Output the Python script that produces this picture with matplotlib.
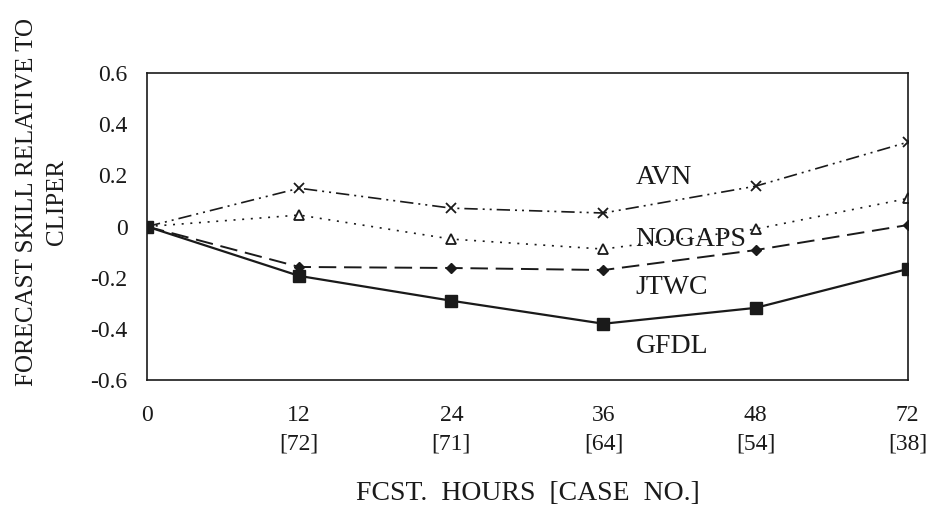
import matplotlib
matplotlib.use("Agg")
import matplotlib.pyplot as plt

hours = ["0", "12", "24", "36", "48", "72"]
cases = ["", "[72]", "[71]", "[64]", "[54]", "[38]"]
avn = [0.0, 0.15, 0.072, 0.053, 0.158, 0.33]
nogaps = [0.0, 0.045, -0.049, -0.088, -0.01, 0.11]
jtwc = [0.0, -0.158, -0.162, -0.17, -0.092, 0.006]
gfdl = [0.0, -0.193, -0.29, -0.38, -0.318, -0.166]
yticks = [-0.6, -0.4, -0.2, 0, 0.2, 0.4, 0.6]
ytick_labels = ["-0.6", "-0.4", "-0.2", "0", "0.2", "0.4", "0.6"]

plt.rcParams['font.family'] = ['Liberation Serif', 'DejaVu Serif']
ink = '#1a1a1a'

fig = plt.figure(figsize=(9.31, 5.08), dpi=100)
ax = fig.add_axes([0.158, 0.252, 0.817, 0.604])
x = list(range(len(hours)))

ax.plot(x, avn, color=ink, lw=1.2, dashes=(8, 3, 1.2, 3, 1.2, 3), marker='x', ms=7, mew=1.3)
ax.plot(x, nogaps, color=ink, lw=1.2, dashes=(1.2, 4), marker='^', ms=7, mfc='white', mec=ink, mew=1.3)
ax.plot(x, jtwc, color=ink, lw=1.4, dashes=(9, 4), marker='D', ms=5.5, mfc=ink, mec=ink)
ax.plot(x, gfdl, color=ink, lw=1.6, ls='-', marker='s', ms=8, mfc=ink, mec=ink)

ax.set_xlim(0, 5)
ax.set_ylim(-0.6, 0.6)
ax.set_yticks(yticks)
ax.set_yticklabels(ytick_labels, fontsize=17)
ax.set_xticks(x)
ax.set_xticklabels([h + ("\n" + c if c else "") for h, c in zip(hours, cases)],
                   fontsize=17, linespacing=1.45)
ax.tick_params(length=0, colors=ink)
ax.tick_params(axis='x', pad=18)
ax.tick_params(axis='y', pad=14)
for s in ax.spines.values():
    s.set_color(ink)
    s.set_linewidth(1.2)

lx = 3.21
ax.text(lx, 0.193, "AVN", fontsize=20, color=ink, ha='left', va='center')
ax.text(lx, -0.049, "NOGAPS", fontsize=20, color=ink, ha='left', va='center')
ax.text(lx, -0.24, "JTWC", fontsize=20, color=ink, ha='left', va='center')
ax.text(lx, -0.47, "GFDL", fontsize=20, color=ink, ha='left', va='center')

fig.text(0.567, 1 - 494 / 508, "FCST.  HOURS  [CASE  NO.]", fontsize=20, color=ink,
         ha='center', va='center')
fig.text(0.045, 1 - 202 / 508, "FORECAST SKILL RELATIVE TO\nCLIPER", fontsize=18, color=ink,
         ha='center', va='center', rotation=90, linespacing=1.5)

fig.savefig("out.png", dpi=100)
